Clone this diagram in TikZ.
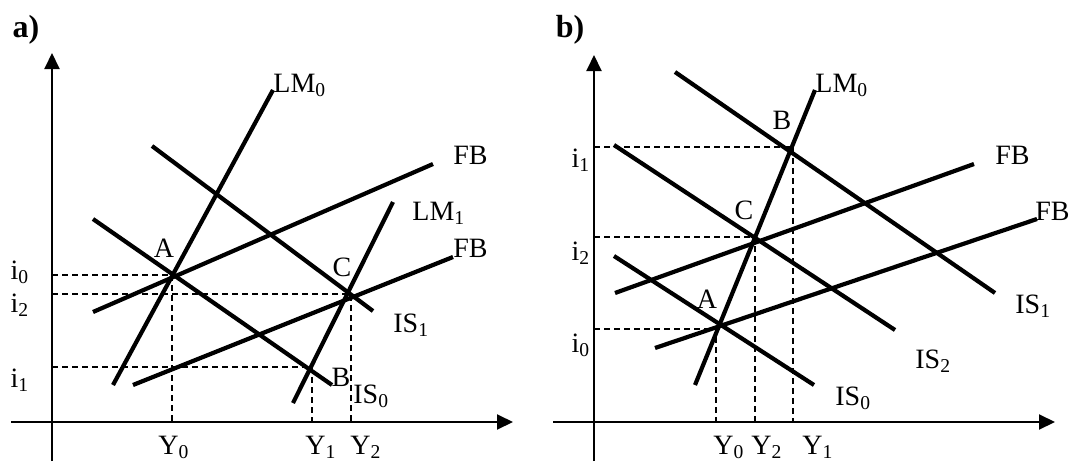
\documentclass[tikz,border=0pt]{standalone}
\usepackage{fontspec}
\setmainfont{Liberation Serif}
\usetikzlibrary{arrows.meta}

\begin{document}
\begin{tikzpicture}[
    x=0.5pt, y=-0.5pt,
    axis/.style={line width=1pt, -{Triangle[length=8pt, width=7.5pt]}},
    curve/.style={line width=2.1pt},
    guide/.style={line width=0.75pt, dash pattern=on 3pt off 2pt},
    lbl/.style={font=\fontsize{14}{16}\selectfont, inner sep=0pt, anchor=base west},
    tick/.style={lbl, anchor=base},
    pt/.style={lbl, anchor=base},
    panel/.style={font=\fontsize{16}{18}\selectfont\bfseries, inner sep=0pt, anchor=base}
]
    \useasboundingbox (0,0) rectangle (1071,461);

    % panel a
    \coordinate (oa) at (52,422);
    \coordinate (Aa) at (172,275);
    \coordinate (Ba) at (312,367);
    \coordinate (Ca) at (351,294);
    \node[panel] (pa) at (26,37) {a)};
    \draw[axis] (52,461) -- (52,53);
    \draw[axis] (11,422) -- (513,422);

    \draw[guide] (Aa -| oa) -- (Aa) -- (Aa |- oa);
    \draw[guide] (Ca -| oa) -- (Ca) -- (Ca |- oa);
    \draw[guide] (Ba -| oa) -- (Ba) -- (Ba |- oa);

    \draw[curve] (113,385) -- (273,90);
    \draw[curve] (293,403) -- (393,202);
    \draw[curve] (93,312) -- (433,164);
    \draw[curve] (133,385) -- (453,257);
    \draw[curve] (93,219) -- (332,385);
    \draw[curve] (152,146) -- (373,311);

    \node[lbl] (lm0a) at (273,92) {LM\textsubscript{0}};
    \node[lbl] (lm1a) at (412,220) {LM\textsubscript{1}};
    \node[lbl] (fbua) at (453,164) {FB};
    \node[lbl] (fbla) at (453,257) {FB};
    \node[lbl] (is1a) at (393,332) {IS\textsubscript{1}};
    \node[lbl] (is0a) at (353,403) {IS\textsubscript{0}};
    \node[tick] (i0a) at (20,279) {i\textsubscript{0}};
    \node[tick] (i2a) at (20,312) {i\textsubscript{2}};
    \node[tick] (i1a) at (20,387) {i\textsubscript{1}};
    \node[tick] (y0a) at (174,454) {Y\textsubscript{0}};
    \node[tick] (y1a) at (321,454) {Y\textsubscript{1}};
    \node[tick] (y2a) at (366,454) {Y\textsubscript{2}};
    \node[pt] (la) at (164,257) {A};
    \node[pt] (lb) at (341,386) {B};
    \node[pt] (lc) at (342,276) {C};

    % panel b
    \coordinate (ob) at (594,422);
    \coordinate (Ab) at (716,329);
    \coordinate (Bb) at (793,147);
    \coordinate (Cb) at (755,237);
    \node[panel] (pb) at (570,37) {b)};
    \draw[axis] (594,461) -- (594,55);
    \draw[axis] (553,422) -- (1055,422);

    \draw[guide] (Bb -| ob) -- (Bb) -- (Bb |- ob);
    \draw[guide] (Cb -| ob) -- (Cb) -- (Cb |- ob);
    \draw[guide] (Ab -| ob) -- (Ab) -- (Ab |- ob);

    \draw[curve] (695,385) -- (815,90);
    \draw[curve] (675,72) -- (995,293);
    \draw[curve] (614,145) -- (895,330);
    \draw[curve] (614,256) -- (814,385);
    \draw[curve] (615,293) -- (974,164);
    \draw[curve] (655,348) -- (1037,219);

    \node[lbl] (lm0b) at (815,92) {LM\textsubscript{0}};
    \node[lbl] (fbub) at (995,164) {FB};
    \node[lbl] (fblb) at (1035,220) {FB};
    \node[lbl] (is1b) at (1015,313) {IS\textsubscript{1}};
    \node[lbl] (is2b) at (915,368) {IS\textsubscript{2}};
    \node[lbl] (is0b) at (835,405) {IS\textsubscript{0}};
    \node[tick] (i1b) at (581,167) {i\textsubscript{1}};
    \node[tick] (i2b) at (581,260) {i\textsubscript{2}};
    \node[tick] (i0b) at (581,352) {i\textsubscript{0}};
    \node[tick] (y0b) at (729,454) {Y\textsubscript{0}};
    \node[tick] (y2b) at (767,454) {Y\textsubscript{2}};
    \node[tick] (y1b) at (818,454) {Y\textsubscript{1}};
    \node[pt] (ab) at (707,308) {A};
    \node[pt] (bb) at (782,129) {B};
    \node[pt] (cb) at (744,219) {C};
\end{tikzpicture}
\end{document}
